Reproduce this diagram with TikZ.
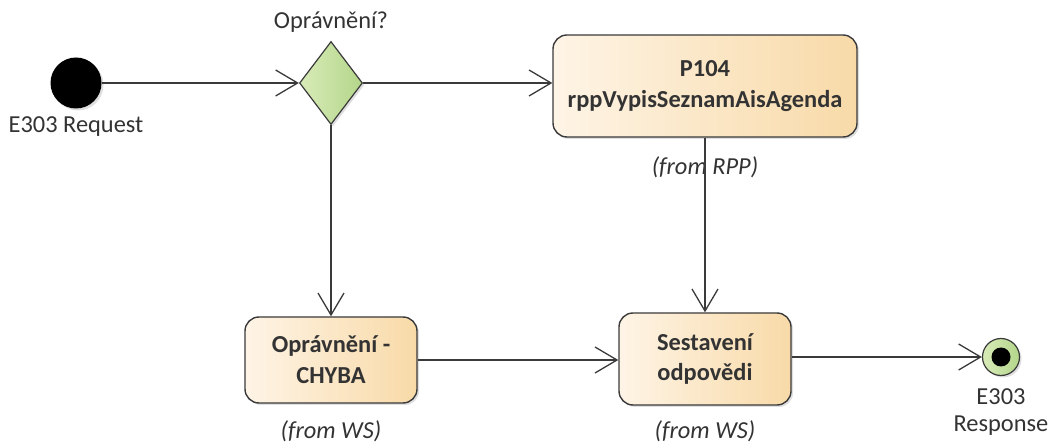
\documentclass[tikz,border=0pt]{standalone}
\usepackage{fontspec}
\setmainfont{Carlito}
\usetikzlibrary{arrows.meta,shapes.geometric,shadows,calc}
\definecolor{boxL}{HTML}{FEF4E6}
\definecolor{boxR}{HTML}{F8DAA8}
\definecolor{grnL}{HTML}{D8EBB8}
\definecolor{grnR}{HTML}{B4D68A}
\definecolor{edge}{HTML}{3A3A3A}
\definecolor{txt}{HTML}{333333}
\tikzset{
  act/.style={draw=edge, line width=1.4bp, rounded corners=14bp, left color=boxL, right color=boxR,
    drop shadow={shadow xshift=2bp, shadow yshift=-2bp, opacity=0.25},
    align=center, font=\fontsize{24.5}{31}\selectfont\bfseries, text=txt, inner sep=0pt},
  dec/.style={diamond, draw=edge, line width=1.2bp, left color=grnL, right color=grnR,
    minimum width=63bp, minimum height=83bp, inner sep=0pt,
    drop shadow={shadow xshift=2bp, shadow yshift=-2bp, opacity=0.25}},
  lbl/.style={font=\fontsize{24.5}{28}\selectfont, text=txt, align=center, inner sep=0pt},
  frm/.style={font=\fontsize{24.5}{28}\selectfont\itshape, text=txt, inner sep=0pt},
  arr/.style={draw=edge, line width=1.3bp, -{Straight Barb[length=22bp,width=26bp,line width=1.3bp]}},
}
\begin{document}
\begin{tikzpicture}[x=1bp,y=-1bp]
\useasboundingbox (0,0) rectangle (1056,443);
% start
\node[circle, fill=black, minimum size=51bp, inner sep=0pt,
  drop shadow={shadow xshift=2bp, shadow yshift=-2bp, opacity=0.25}] (start) at (76,83) {};
\node[lbl] (startl) at (76,127) {E303 Request};
% decision
\node[dec] (d) at (331,83) {};
\node[lbl] (dl) at (331,22) {Oprávnění?};
% P104
\node[act, minimum width=304bp, minimum height=102bp] (p) at (705,86) {P104\\rppVypisSeznamAisAgenda};
\node[frm] (pl) at (705,167) {(from RPP)};
% chyba
\node[act, minimum width=172bp, minimum height=86bp] (c) at (331,360) {Oprávnění -\\CHYBA};
\node[frm] (cl) at (331,431) {(from WS)};
% sestaveni
\node[act, minimum width=172bp, minimum height=92bp] (s) at (705,359) {Sestavení\\odpovědi};
\node[frm] (sl) at (705,431) {(from WS)};
% end
\node[circle, draw=edge, line width=1.2bp, left color=grnL, right color=grnR, minimum size=37bp, inner sep=0pt,
  drop shadow={shadow xshift=2bp, shadow yshift=-2bp, opacity=0.25}] (e) at (1001,357) {};
\node[circle, fill=black, minimum size=19bp, inner sep=0pt] (ei) at (e.center) {};
\node[lbl] (el) at (1001,412) {E303\\Response};
% edges
\draw[arr] (start) -- (d.west);
\draw[arr] (d.east) -- (d.east -| p.west);
\draw[arr] (d.south) -- (c.north);
\draw[arr] (p.south) -- (s.north);
\draw[arr] (c.east) -- (c.east -| s.west);
\draw[arr] (s.east |- e.west) -- (e.west);
\end{tikzpicture}
\end{document}
